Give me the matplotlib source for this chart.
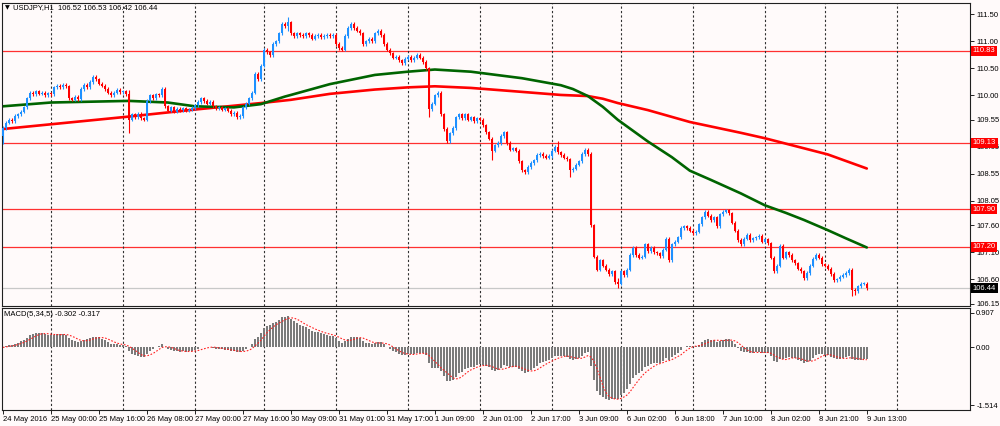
import numpy as np
import pandas as pd
import matplotlib
matplotlib.use("Agg")
import matplotlib.pyplot as plt
from matplotlib.transforms import blended_transform_factory

# ---------------- data ----------------
SYMBOL = "USDJPY,H1"
LAST_OHLC = "106.52 106.53 106.42 106.44"
FIRST_OPEN = 109.25

CLOSES = [
    109.40, 109.50, 109.55, 109.52, 109.62, 109.65, 109.70, 109.78, 109.95, 110.05,
    110.02, 110.08, 110.03, 110.05, 110.00, 110.04, 110.02, 110.15, 110.18, 110.15,
    110.20, 110.17, 109.95, 109.92, 109.97, 109.93, 110.12, 110.20, 110.15, 110.25,
    110.35, 110.30, 110.22, 110.18, 110.12, 110.05, 110.00, 110.05, 110.10, 110.06,
    110.08, 110.02, 109.55, 109.65, 109.60, 109.66, 109.58, 109.55, 109.90, 110.00,
    109.95, 110.02, 110.00, 110.12, 109.80, 109.72, 109.78, 109.70, 109.75, 109.73,
    109.76, 109.72, 109.74, 109.77, 109.82, 109.88, 109.95, 109.90, 109.85, 109.88,
    109.80, 109.76, 109.78, 109.74, 109.76, 109.72, 109.65, 109.68, 109.60, 109.62,
    109.78, 109.85, 109.95, 110.05, 110.40, 110.30, 110.55, 110.85, 110.80, 110.75,
    110.95, 111.00, 111.15, 111.32, 111.28, 111.35, 111.15, 111.10, 111.15, 111.12,
    111.10, 111.15, 111.12, 111.05, 111.10, 111.12, 111.08, 111.10, 111.12, 111.10,
    111.12, 110.95, 110.88, 110.85, 111.10, 111.25, 111.33, 111.25, 111.20, 111.15,
    110.95, 111.00, 111.05, 111.00, 111.15, 111.20, 111.12, 110.95, 110.85, 110.78,
    110.70, 110.72, 110.65, 110.60, 110.68, 110.72, 110.65, 110.70, 110.75, 110.70,
    110.62, 110.50, 109.75, 109.85, 110.00, 110.05, 109.65, 109.38, 109.15, 109.30,
    109.40, 109.60, 109.65, 109.58, 109.65, 109.55, 109.60, 109.52, 109.58, 109.55,
    109.45, 109.32, 109.20, 108.98, 109.08, 109.12, 109.25, 109.32, 109.12, 109.00,
    109.02, 108.98, 108.78, 108.62, 108.58, 108.68, 108.75, 108.80, 108.90, 108.92,
    108.88, 108.85, 108.88, 108.98, 109.05, 108.95, 108.90, 108.85, 108.82, 108.62,
    108.65, 108.72, 108.78, 108.92, 109.00, 108.92, 107.60, 107.02, 106.78, 106.95,
    106.85, 106.78, 106.70, 106.75, 106.55, 106.52, 106.75, 106.68, 106.78, 107.05,
    107.18, 107.05, 107.00, 107.02, 107.25, 107.12, 107.18, 107.10, 107.08, 107.03,
    107.15, 107.35, 106.95, 107.25, 107.30, 107.38, 107.55, 107.58, 107.55, 107.50,
    107.45, 107.48, 107.62, 107.75, 107.85, 107.78, 107.70, 107.75, 107.58, 107.80,
    107.85, 107.88, 107.82, 107.65, 107.50, 107.33, 107.25, 107.35, 107.42, 107.32,
    107.36, 107.38, 107.40, 107.30, 107.34, 107.27, 107.00, 106.75, 106.85, 107.22,
    107.00, 107.10, 107.05, 106.95, 106.90, 106.80, 106.75, 106.62, 106.72, 106.85,
    106.98, 107.05, 107.00, 106.88, 106.85, 106.80, 106.70, 106.58, 106.60, 106.65,
    106.68, 106.72, 106.78, 106.40, 106.38, 106.47, 106.52, 106.52, 106.44,
]

# notable long wicks: bar -> (high, low)
WICK_EXTREMES = {
    0: (109.42, 109.10), 42: (110.10, 109.30), 95: (111.45, 111.20),
    142: (110.52, 109.60), 163: (109.22, 108.80), 185: (109.15, 108.92),
    189: (108.85, 108.50), 205: (106.62, 106.44), 283: (106.80, 106.30),
    284: (106.45, 106.32), 288: (106.53, 106.42),
}

GREEN_MA_BARS = [0, 16, 42, 55, 64, 77, 86, 94, 96, 109, 124, 135, 144, 156, 173,
                 186, 190, 195, 200, 205, 210, 215, 223, 229, 236, 246, 254, 261,
                 267, 275, 281, 288]
GREEN_MA = [109.80, 109.87, 109.90, 109.87, 109.80, 109.78, 109.84, 109.98, 110.01,
            110.21, 110.38, 110.44, 110.48, 110.44, 110.32, 110.19, 110.12, 109.99,
            109.79, 109.55, 109.35, 109.15, 108.86, 108.61, 108.44, 108.19, 107.97,
            107.83, 107.70, 107.51, 107.36, 107.19]

RED_MA_BARS = [0, 42, 64, 86, 96, 109, 124, 135, 144, 156, 170, 186, 195, 200,
               205, 215, 229, 246, 254, 275, 288]
RED_MA = [109.38, 109.61, 109.74, 109.86, 109.92, 110.03, 110.11, 110.15, 110.17,
          110.14, 110.08, 110.01, 109.99, 109.94, 109.86, 109.73, 109.51, 109.31,
          109.21, 108.91, 108.65]

LEVELS = [110.83, 109.13, 107.90, 107.20]
LAST_PRICE = 106.44

PRICE_TICKS = [111.50, 111.00, 110.50, 110.00, 109.55, 109.05, 108.55, 108.05,
               107.60, 107.10, 106.60, 106.15]
MACD_TICKS = [0.907, 0.00, -1.514]
MACD_TICK_LABELS = ["0.907", "0.00", "-1.514"]
MACD_LABEL = "MACD(5,34,5) -0.302 -0.317"
MACD_FAST, MACD_SLOW, MACD_SIGNAL = 5, 34, 5

TIME_TICK_BARS = list(range(0, 289, 16))
TIME_LABELS = ["24 May 2016", "25 May 00:00", "25 May 16:00", "26 May 08:00",
               "27 May 00:00", "27 May 16:00", "30 May 09:00", "31 May 01:00",
               "31 May 17:00", "1 Jun 09:00", "2 Jun 01:00", "2 Jun 17:00",
               "3 Jun 09:00", "6 Jun 02:00", "6 Jun 18:00", "7 Jun 10:00",
               "8 Jun 02:00", "8 Jun 21:00", "9 Jun 13:00"]
GRID_BARS = [16, 40, 64, 87, 111, 135, 159, 183, 206, 230, 254, 274, 298]

# ---------------- style ----------------
BG = "#fffafa"
BULL = "#1e90ff"
BEAR = "#ff0000"
FONT = ["Liberation Sans", "DejaVu Sans"]
FS = 5.5
plt.rcParams["font.family"] = FONT

W, H = 1000, 426
fig = plt.figure(figsize=(W / 100, H / 100), dpi=100, facecolor=BG)


def frac(x0, y0, x1, y1):
    return [x0 / W, 1 - y1 / H, (x1 - x0) / W, (y1 - y0) / H]


ax = fig.add_axes(frac(2, 3, 970, 306), facecolor=BG)
axm = fig.add_axes(frac(2, 308, 970, 410), facecolor=BG, sharex=ax)

closes = np.array(CLOSES)
opens = np.concatenate([[FIRST_OPEN], closes[:-1]])
n = len(closes)
idx = np.arange(n)
highs = np.maximum(opens, closes) + 0.03
lows = np.minimum(opens, closes) - 0.03
for b, (hh, ll) in WICK_EXTREMES.items():
    highs[b] = max(highs[b], hh)
    lows[b] = min(lows[b], ll)

up = closes >= opens
colors = np.where(up, BULL, BEAR)

# levels and lines
for lv in LEVELS:
    ax.axhline(lv, color="#ff3030", lw=0.9, zorder=1)
ax.axhline(LAST_PRICE, color="#c8c8c8", lw=0.9, zorder=1)
for g in GRID_BARS:
    for a in (ax, axm):
        a.axvline(g, color="#303030", lw=0.8, ls=(0, (2, 2)), zorder=1)

ax.plot(RED_MA_BARS, RED_MA, color="#ff0000", lw=1.9, zorder=2,
        solid_capstyle="round", solid_joinstyle="round")
ax.plot(GREEN_MA_BARS, GREEN_MA, color="#006400", lw=1.9, zorder=2,
        solid_capstyle="round", solid_joinstyle="round")

# candles
ax.vlines(idx, lows, highs, colors=colors, lw=0.8, zorder=3)
body_bottom = np.minimum(opens, closes)
body_h = np.maximum(np.abs(closes - opens), 0.012)
ax.bar(idx, body_h, bottom=body_bottom, width=0.75, color=colors,
       edgecolor="none", zorder=4)

ax.set_xlim(-0.3, 322.4)
ax.set_ylim(106.108, 111.71)

# MACD
s = pd.Series(closes)
macd = (s.ewm(span=MACD_FAST, adjust=False).mean()
        - s.ewm(span=MACD_SLOW, adjust=False).mean())
signal = macd.rolling(MACD_SIGNAL, min_periods=1).mean()
axm.bar(idx, macd.values, width=0.62, color="#7a7a7a", edgecolor="none",
        zorder=2)
axm.plot(idx, signal.values, color="#ff2020", lw=0.8, ls=(0, (1.5, 1.5)),
         zorder=3)
axm.set_ylim(-1.639, 1.032)

# axes cosmetics
for a in (ax, axm):
    for sp in a.spines.values():
        sp.set_color("#202020")
        sp.set_linewidth(0.8)
    a.yaxis.tick_right()
    a.tick_params(axis="y", which="both", direction="out", length=3,
                  width=0.6, pad=1.5, labelsize=FS, colors="#000000")

ax.set_yticks(PRICE_TICKS)
ax.set_yticklabels([f"{t:.2f}" for t in PRICE_TICKS])
ax.tick_params(axis="x", which="both", bottom=False, labelbottom=False)

axm.set_yticks(MACD_TICKS)
axm.set_yticklabels(MACD_TICK_LABELS)
axm.set_xticks(TIME_TICK_BARS)
axm.set_xticklabels(TIME_LABELS)
axm.tick_params(axis="x", direction="out", length=3, width=0.6, pad=1.5,
                labelsize=FS)
for lbl in axm.get_xticklabels():
    lbl.set_horizontalalignment("left")

# right-side price boxes
tr = blended_transform_factory(ax.transAxes, ax.transData)
for lv in LEVELS:
    ax.text(1.0029, lv, f"{lv:.2f}", transform=tr, fontsize=FS, color="white",
            va="center", ha="left", clip_on=False, zorder=6,
            bbox=dict(boxstyle="square,pad=0.2", fc="#ff0000", ec="none"))
ax.text(1.0029, LAST_PRICE, f"{LAST_PRICE:.2f}", transform=tr, fontsize=FS,
        color="white", va="center", ha="left", clip_on=False, zorder=6,
        bbox=dict(boxstyle="square,pad=0.2", fc="#000000", ec="none"))

# header texts
fig.text(5 / W, 1 - 7.5 / H, "\u25BC", fontsize=4.5, va="center", ha="left",
         family=["DejaVu Sans"])
fig.text(13 / W, 1 - 7.5 / H, f"{SYMBOL}  {LAST_OHLC}", fontsize=FS,
         va="center", ha="left")
fig.text(4 / W, 1 - 315 / H, MACD_LABEL, fontsize=FS, va="center", ha="left")

fig.savefig("out.png", dpi=100, facecolor=BG)
